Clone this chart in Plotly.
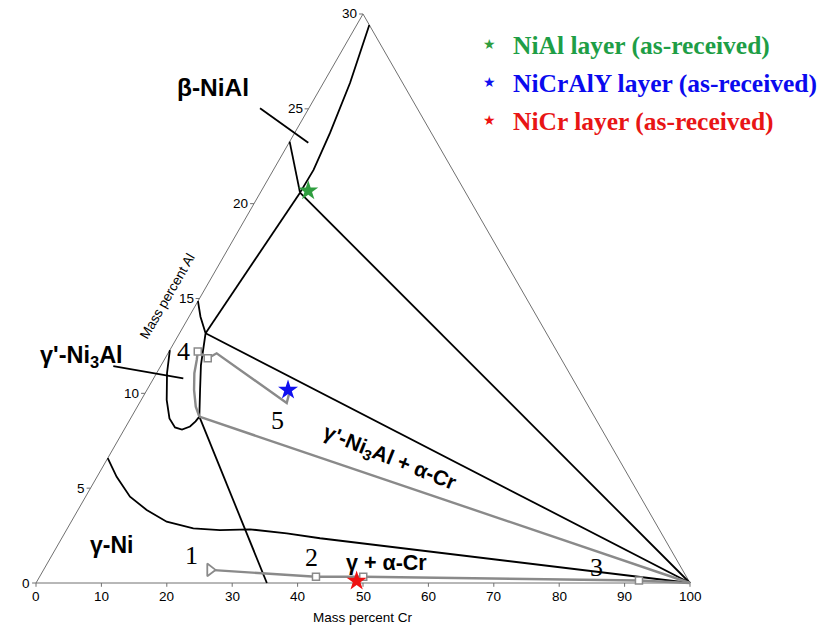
import plotly.graph_objects as go

# ---------------- data (mass percent Cr, mass percent Al) ----------------
cr_ticks = [0, 10, 20, 30, 40, 50, 60, 70, 80, 90, 100]
al_ticks = [0, 5, 10, 15, 20, 25, 30]

tri_cr = [0, 100, 0, 0]
tri_al = [0, 0, 30, 0]

beta_right_cr = [1.93, 2.63, 4.08, 5.41, 6.14, 6.07]
beta_right_al = [29.42, 28.47, 26.36, 23.73, 21.78, 20.58]

beta_left_cr = [0.0, 6.07]
beta_left_al = [23.27, 20.58]

junc_corner_cr = [6.07, 3.98]
junc_corner_al = [20.58, 13.17]

junc_cr_cr = [6.07, 100.0]
junc_cr_al = [20.58, 0.0]

corner_cr_cr = [3.98, 100.0]
corner_cr_al = [13.17, 0.0]

gp_bound_cr = [0.0, 1.75, 3.98, 4.82, 6.07, 8.12, 10.36]
gp_bound_al = [14.86, 14.04, 13.17, 12.46, 11.49, 10.18, 8.77]

g_loop_cr = [0.0, 1.60, 3.90, 5.94, 7.59, 8.84, 9.80, 10.20, 10.36]
g_loop_al = [12.28, 11.06, 9.65, 8.68, 8.20, 8.09, 8.25, 8.52, 8.77]

node_base_cr = [10.36, 35.3]
node_base_al = [8.77, 0.0]

g_alpha_cr = [0.0, 3.00, 6.79, 10.51, 14.60, 19.25, 23.48, 28.00, 33.97, 39.50, 100.0]
g_alpha_al = [6.58, 5.60, 4.55, 3.85, 3.23, 2.88, 2.79, 2.83, 2.62, 2.36, 0.0]

tie_gray_cr = [10.36, 100.0]
tie_gray_al = [8.77, 0.0]

path_low_cr = [25.46, 42.26, 49.49, 91.98, 100.0]
path_low_al = [0.69, 0.33, 0.33, 0.13, 0.0]

path_up_cr = [10.36, 8.93, 7.20, 5.78, 4.98, 4.40, 6.51, 7.44, 22.52, 22.08]
path_up_al = [8.77, 9.30, 10.18, 11.06, 11.76, 12.20, 11.85, 12.11, 9.49, 9.97]

start_cr, start_al = [25.46], [0.69]
square_cr = [42.26, 49.49, 91.98, 4.40, 6.51]
square_al = [0.33, 0.33, 0.13, 12.20, 11.85]

star_names = ["NiAl layer (as-received)", "NiCrAlY layer (as-received)", "NiCr layer (as-received)"]
star_cr = [7.16, 21.57, 48.86]
star_al = [20.68, 10.18, 0.10]
star_colors = ["#2f9e3f", "#1010f0", "#ee1111"]
legend_colors = ["#1e9e46", "#0a0aee", "#e81515"]

beta_ptr_cr = [-7.46, 2.95]
beta_ptr_al = [25.03, 23.21]
gp_ptr_cr = [-7.25, 4.54]
gp_ptr_al = [11.44, 10.79]

# ---------------- triangular projection ----------------
CR_MAX, AL_MAX = 100.0, 30.0
W, H = 824, 628
X0, Y0, SX, SY = 36.0, 583.0, 6.54, 18.967  # calibration of the frame


def proj(cr, al):
    xs = [c + a * (CR_MAX / 2) / AL_MAX for c, a in zip(cr, al)]
    return xs, list(al)


def pp(px, py):
    return px / W, 1 - py / H


fig = go.Figure()


def line(cr, al, color="black", width=1.8):
    x, y = proj(cr, al)
    fig.add_trace(go.Scatter(x=x, y=y, mode="lines", line=dict(color=color, width=width),
                             hoverinfo="skip", showlegend=False))


# frame
line(tri_cr, tri_al, color="#707070", width=1)
# ticks
tx, ty = [], []
for c in cr_ticks:
    tx += [c, c, None]
    ty += [0, -0.2, None]
for a in al_ticks:
    xa = a * (CR_MAX / 2) / AL_MAX
    tx += [xa, xa - 0.6, None]
    ty += [a, a, None]
fig.add_trace(go.Scatter(x=tx, y=ty, mode="lines", line=dict(color="#707070", width=1),
                         hoverinfo="skip", showlegend=False))

# phase boundaries
for cr, al in [(beta_right_cr, beta_right_al), (beta_left_cr, beta_left_al),
               (junc_corner_cr, junc_corner_al), (junc_cr_cr, junc_cr_al),
               (corner_cr_cr, corner_cr_al), (gp_bound_cr, gp_bound_al),
               (g_loop_cr, g_loop_al), (node_base_cr, node_base_al),
               (g_alpha_cr, g_alpha_al), (beta_ptr_cr, beta_ptr_al),
               (gp_ptr_cr, gp_ptr_al)]:
    line(cr, al)

# diffusion path (gray)
GRAY = "#8a8a8a"
line(tie_gray_cr, tie_gray_al, color=GRAY, width=2.4)
line(path_low_cr, path_low_al, color=GRAY, width=2.4)
line(path_up_cr, path_up_al, color=GRAY, width=2.4)
x, y = proj(start_cr, start_al)
fig.add_trace(go.Scatter(x=x, y=y, mode="markers",
                         marker=dict(symbol="triangle-right", size=11, color="white",
                                     line=dict(color=GRAY, width=1.8)),
                         hoverinfo="skip", showlegend=False))
x, y = proj(square_cr, square_al)
fig.add_trace(go.Scatter(x=x, y=y, mode="markers",
                         marker=dict(symbol="square", size=7, color="white",
                                     line=dict(color=GRAY, width=1.5)),
                         hoverinfo="skip", showlegend=False))

# stars
for n, c, a, col in zip(star_names, star_cr, star_al, star_colors):
    x, y = proj([c], [a])
    fig.add_trace(go.Scatter(x=x, y=y, mode="markers", name=n,
                             marker=dict(symbol="star", size=15, color=col, line=dict(width=0)),
                             showlegend=False))

anns = []


def ann(text, px, py, size, family="Liberation Sans", color="black", angle=0,
        xanchor="center", yanchor="middle"):
    xp, yp = pp(px, py)
    anns.append(dict(text=text, x=xp, y=yp, xref="paper", yref="paper", showarrow=False,
                     xanchor=xanchor, yanchor=yanchor, textangle=angle,
                     font=dict(size=size, family=family, color=color)))


# tick labels
for c in cr_ticks:
    ann(str(c), X0 + SX * c, 596, 13.5)
for a in al_ticks:
    ax = X0 + SX * a * (CR_MAX / 2) / AL_MAX
    ay = Y0 - SY * a
    ann(str(a), ax - 4, ay, 13.5, xanchor="right")

ann("Mass percent Cr", 363, 617, 13.5)
ann("Mass percent Al", 167, 296, 13.5, angle=-60)

# phase labels
ann("<b>β-NiAl</b>", 213, 88, 24.5)
ann("<b>γ'-Ni<sub>3</sub>Al</b>", 81, 356, 23.5)
ann("<b>γ-Ni</b>", 111, 545, 23)
ann("<b>γ + α-Cr</b>", 386, 563, 21.5)
ann("<b>γ'-Ni<sub>3</sub>Al + α-Cr</b>", 389, 458, 21, angle=22)

# point numbers
for t, px, py in [("1", 191, 555), ("2", 311, 557), ("3", 596, 567), ("4", 183, 351), ("5", 277, 420)]:
    ann(t, px, py, 26, family="Liberation Serif")

# legend
for i, (n, col, scol) in enumerate(zip(star_names, legend_colors, star_colors)):
    yy = [44, 82, 120][i]
    ann("★", 490, yy, 14, family="DejaVu Sans", color=scol)
    ann("<b>" + n + "</b>", 511, yy + 1, 25.5, family="Liberation Serif", color=col, xanchor="left")

fig.update_layout(
    width=W, height=H, autosize=False,
    margin=dict(l=0, r=0, t=0, b=0),
    paper_bgcolor="white", plot_bgcolor="white",
    xaxis=dict(visible=False, range=[-X0 / SX, (W - X0) / SX], fixedrange=True),
    yaxis=dict(visible=False, range=[-(H - Y0) / SY, Y0 / SY], fixedrange=True),
    annotations=anns,
    showlegend=False,
)

fig.write_html("out.html")
